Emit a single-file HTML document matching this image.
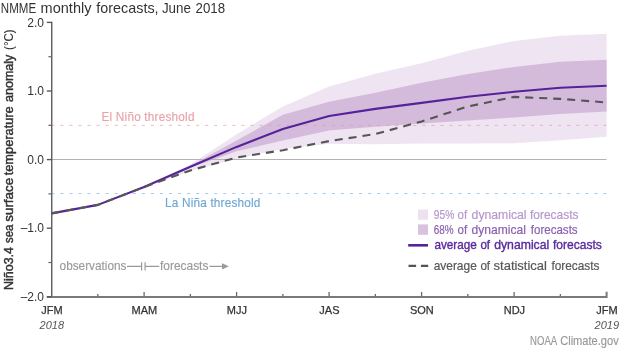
<!DOCTYPE html>
<html><head><meta charset="utf-8"><style>
html,body{margin:0;padding:0;background:#fff;width:620px;height:349px;overflow:hidden}
svg{display:block;will-change:transform}
text{font-family:"Liberation Sans",sans-serif}
</style></head><body>
<svg width="620" height="349" viewBox="0 0 620 349">
<polygon points="144.10,187.04 190.35,164.40 236.60,134.29 282.85,106.50 329.10,86.47 375.35,73.85 421.60,63.22 467.85,50.87 514.10,40.92 560.35,35.78 606.60,33.72 606.60,136.69 560.35,140.19 514.10,143.27 467.85,143.62 421.60,143.62 375.35,144.30 329.10,143.68 282.85,148.97 236.60,158.71 190.35,170.92 144.10,187.04" fill="#efe4f1"/>
<polygon points="144.10,187.04 190.35,165.77 236.60,140.39 282.85,114.80 329.10,101.63 375.35,92.72 421.60,82.77 467.85,73.99 514.10,66.99 560.35,61.71 606.60,59.72 606.60,111.58 560.35,113.98 514.10,117.48 467.85,120.43 421.60,123.58 375.35,126.81 329.10,130.44 282.85,140.53 236.60,151.37 190.35,167.83 144.10,187.04" fill="#d5bbdb"/>
<line x1="51.6" y1="159.5" x2="606.6" y2="159.5" stroke="#b3b3b3" stroke-width="1"/>
<line x1="51.3" y1="125.4" x2="606.6" y2="125.4" stroke="#e0949a" stroke-opacity="0.62" stroke-width="1" stroke-dasharray="3.1,5.95"/>
<line x1="51.3" y1="193.5" x2="606.6" y2="193.5" stroke="#a2cfef" stroke-width="1" stroke-dasharray="3.1,5.95"/>
<polyline points="51.60,213.38 97.85,204.88 144.10,187.04 144.10,187.04 190.35,166.80 236.60,146.91 282.85,129.00 329.10,115.97 375.35,108.84 421.60,102.87 467.85,96.83 514.10,91.82 560.35,87.78 606.60,85.79" fill="none" stroke="#55229a" stroke-width="2.1" stroke-linejoin="round"/>
<polyline points="51.60,213.38 97.85,204.88 144.10,187.04" fill="none" stroke="#585858" stroke-width="2.1" stroke-dasharray="8,6" stroke-dashoffset="-0.2"/>
<polyline points="144.10,187.04 190.35,170.44 236.60,157.54 282.85,150.20 329.10,141.08 375.35,134.08 421.60,121.39 467.85,106.50 514.10,96.90 560.35,98.89 606.60,102.46" fill="none" stroke="#555" stroke-width="2.1" stroke-dasharray="8,6" stroke-dashoffset="-0.85"/>
<line x1="51.75" y1="21.7" x2="51.75" y2="297" stroke="#555" stroke-width="1.35"/>
<path d="M46.8,296.9 H606.6 V291.7" fill="none" stroke="#7a7a7a" stroke-width="2"/>
<line x1="46.8" y1="22.40" x2="51.7" y2="22.40" stroke="#555" stroke-width="1.35"/>
<line x1="46.8" y1="91.00" x2="51.7" y2="91.00" stroke="#555" stroke-width="1.35"/>
<line x1="46.8" y1="159.60" x2="51.7" y2="159.60" stroke="#555" stroke-width="1.35"/>
<line x1="46.8" y1="228.20" x2="51.7" y2="228.20" stroke="#555" stroke-width="1.35"/>
<line x1="46.8" y1="296.80" x2="51.7" y2="296.80" stroke="#555" stroke-width="1.35"/>
<line x1="48.4" y1="56.70" x2="51.7" y2="56.70" stroke="#666" stroke-width="1.2"/>
<line x1="48.4" y1="125.30" x2="51.7" y2="125.30" stroke="#666" stroke-width="1.2"/>
<line x1="48.4" y1="193.90" x2="51.7" y2="193.90" stroke="#666" stroke-width="1.2"/>
<line x1="48.4" y1="262.50" x2="51.7" y2="262.50" stroke="#666" stroke-width="1.2"/>
<line x1="97.85" y1="296.5" x2="97.85" y2="293.9" stroke="#6a6a6a" stroke-width="1.3"/>
<line x1="144.10" y1="296.5" x2="144.10" y2="291.9" stroke="#6a6a6a" stroke-width="1.3"/>
<line x1="190.35" y1="296.5" x2="190.35" y2="293.9" stroke="#6a6a6a" stroke-width="1.3"/>
<line x1="236.60" y1="296.5" x2="236.60" y2="291.9" stroke="#6a6a6a" stroke-width="1.3"/>
<line x1="282.85" y1="296.5" x2="282.85" y2="293.9" stroke="#6a6a6a" stroke-width="1.3"/>
<line x1="329.10" y1="296.5" x2="329.10" y2="291.9" stroke="#6a6a6a" stroke-width="1.3"/>
<line x1="375.35" y1="296.5" x2="375.35" y2="293.9" stroke="#6a6a6a" stroke-width="1.3"/>
<line x1="421.60" y1="296.5" x2="421.60" y2="291.9" stroke="#6a6a6a" stroke-width="1.3"/>
<line x1="467.85" y1="296.5" x2="467.85" y2="293.9" stroke="#6a6a6a" stroke-width="1.3"/>
<line x1="514.10" y1="296.5" x2="514.10" y2="291.9" stroke="#6a6a6a" stroke-width="1.3"/>
<line x1="560.35" y1="296.5" x2="560.35" y2="293.9" stroke="#6a6a6a" stroke-width="1.3"/>
<text id="y2" x="44.0" y="26.60" font-size="12" fill="#333" text-anchor="end">2.0</text>
<text id="y1" x="44.0" y="95.20" font-size="12" fill="#333" text-anchor="end">1.0</text>
<text id="y0" x="44.0" y="163.80" font-size="12" fill="#333" text-anchor="end">0.0</text>
<text id="y-1" x="44.0" y="232.40" font-size="12" fill="#333" text-anchor="end">–1.0</text>
<text id="y-2" x="44.0" y="301.00" font-size="12" fill="#333" text-anchor="end">–2.0</text>
<text id="m0" x="51.90" y="313.6" font-size="11" fill="#333" text-anchor="middle" stroke="#333" stroke-width="0.25">JFM</text>
<text id="m2" x="144.40" y="313.6" font-size="11" fill="#333" text-anchor="middle" stroke="#333" stroke-width="0.25">MAM</text>
<text id="m4" x="236.90" y="313.6" font-size="11" fill="#333" text-anchor="middle" stroke="#333" stroke-width="0.25">MJJ</text>
<text id="m6" x="329.40" y="313.6" font-size="11" fill="#333" text-anchor="middle" stroke="#333" stroke-width="0.25">JAS</text>
<text id="m8" x="421.90" y="313.6" font-size="11" fill="#333" text-anchor="middle" stroke="#333" stroke-width="0.25">SON</text>
<text id="m10" x="514.40" y="313.6" font-size="11" fill="#333" text-anchor="middle" stroke="#333" stroke-width="0.25">NDJ</text>
<text id="m12" x="606.90" y="313.6" font-size="11" fill="#333" text-anchor="middle" stroke="#333" stroke-width="0.25">JFM</text>
<text id="yr2018" x="51.80" y="328.7" font-size="11" fill="#555" font-style="italic" text-anchor="middle">2018</text>
<text id="yr2019" x="606.8" y="328.7" font-size="11" fill="#555" font-style="italic" text-anchor="middle">2019</text>
<g transform="translate(530.10,345.2) scale(1,1.08)"><text id="noaa_0" x="0" y="0" font-size="11" fill="#999" stroke="#999" stroke-width="0.15" textLength="27.10" lengthAdjust="spacingAndGlyphs">NOAA</text></g>
<g transform="translate(560.20,345.2) scale(1,1.08)"><text id="noaa_1" x="0" y="0" font-size="11" fill="#999" stroke="#999" stroke-width="0.15" textLength="58.50" lengthAdjust="spacingAndGlyphs">Climate.gov</text></g>
<text id="tw0" x="0.86" y="12.7" font-size="14.4" fill="#333" textLength="35.26" lengthAdjust="spacingAndGlyphs">NMME</text>
<text id="tw1" x="40.64" y="12.7" font-size="14.4" fill="#333" textLength="50.82" lengthAdjust="spacingAndGlyphs">monthly</text>
<text id="tw2" x="96.32" y="12.7" font-size="14.4" fill="#333" textLength="62.26" lengthAdjust="spacingAndGlyphs">forecasts,</text>
<text id="tw3" x="161.88" y="12.7" font-size="14.4" fill="#333" textLength="29.02" lengthAdjust="spacingAndGlyphs">June</text>
<text id="tw4" x="195.54" y="12.7" font-size="14.4" fill="#333" textLength="29.48" lengthAdjust="spacingAndGlyphs">2018</text>
<g transform="translate(13.2,289.90) rotate(-90)"><text id="yw0" x="0" y="0" font-size="12.4" fill="#333" stroke="#333" stroke-width="0.45" textLength="42.90" lengthAdjust="spacingAndGlyphs">Niño3.4</text></g>
<g transform="translate(13.2,242.90) rotate(-90)"><text id="yw1" x="0" y="0" font-size="12.4" fill="#333" stroke="#333" stroke-width="0.45" textLength="18.30" lengthAdjust="spacingAndGlyphs">sea</text></g>
<g transform="translate(13.2,221.70) rotate(-90)"><text id="yw2" x="0" y="0" font-size="12.4" fill="#333" stroke="#333" stroke-width="0.45" textLength="43.80" lengthAdjust="spacingAndGlyphs">surface</text></g>
<g transform="translate(13.2,175.30) rotate(-90)"><text id="yw3" x="0" y="0" font-size="12.4" fill="#333" stroke="#333" stroke-width="0.45" textLength="69.00" lengthAdjust="spacingAndGlyphs">temperature</text></g>
<g transform="translate(13.2,102.00) rotate(-90)"><text id="yw4" x="0" y="0" font-size="12.4" fill="#333" stroke="#333" stroke-width="0.45" textLength="47.40" lengthAdjust="spacingAndGlyphs">anomaly</text></g>
<g transform="translate(13.2,49.90) rotate(-90)"><text id="yw5" x="0" y="0" font-size="12.4" fill="#333" stroke="#333" stroke-width="0.1" textLength="20.60" lengthAdjust="spacingAndGlyphs">(°C)</text></g>
<g transform="translate(101.5,121.4) scale(1,1.07)"><text x="0" y="0" font-size="11.8" fill="#e8a3aa" stroke="#e8a3aa" stroke-width="0.15" textLength="93.00" lengthAdjust="spacing">El Niño threshold</text></g>
<g transform="translate(165.0,207.2) scale(1,1.08)"><text x="0" y="0" font-size="11.8" fill="#6ea7d2" stroke="#6ea7d2" stroke-width="0.15" textLength="95.40" lengthAdjust="spacing">La Niña threshold</text></g>
<g transform="translate(59.60,270) scale(1,1.08)"><text id="obs_0" x="0" y="0" font-size="11.8" fill="#9a9a9a" stroke="#9a9a9a" stroke-width="0.15" textLength="66.80" lengthAdjust="spacingAndGlyphs">observations</text></g>
<path d="M127,266.3 H141.6 M145.1,266.3 H159.3 M141.6,262.3 V270.6 M145.1,262.3 V270.6 M209.5,266.3 H224" stroke="#9a9a9a" stroke-width="1.2" fill="none"/>
<path d="M228.8,266.3 L222,263.2 L222,269.4 Z" fill="#9a9a9a"/>
<g transform="translate(160.00,270) scale(1,1.08)"><text id="fc_0" x="0" y="0" font-size="11.8" fill="#9a9a9a" stroke="#9a9a9a" stroke-width="0.15" textLength="48.40" lengthAdjust="spacingAndGlyphs">forecasts</text></g>
<rect x="418" y="209.5" width="10" height="10.3" fill="#ede1f0"/>
<rect x="418" y="224.4" width="10" height="10.4" fill="#d8c2df"/>
<line x1="408.2" y1="245.3" x2="428" y2="245.3" stroke="#55229a" stroke-width="2.6"/>
<line x1="408.5" y1="265.9" x2="428.2" y2="265.9" stroke="#555" stroke-width="2.4" stroke-dasharray="7.6,4.8"/>
<g transform="translate(433.80,219.4) scale(1,1.08)"><text id="l95_0" x="0" y="0" font-size="11.8" fill="#b898ce" stroke="#b898ce" stroke-width="0.2" textLength="20.52" lengthAdjust="spacingAndGlyphs">95%</text></g>
<g transform="translate(457.56,219.4) scale(1,1.08)"><text id="l95_1" x="0" y="0" font-size="11.8" fill="#b898ce" stroke="#b898ce" stroke-width="0.2" textLength="9.56" lengthAdjust="spacingAndGlyphs">of</text></g>
<g transform="translate(471.62,219.4) scale(1,1.08)"><text id="l95_2" x="0" y="0" font-size="11.8" fill="#b898ce" stroke="#b898ce" stroke-width="0.2" textLength="54.96" lengthAdjust="spacingAndGlyphs">dynamical</text></g>
<g transform="translate(530.06,219.4) scale(1,1.08)"><text id="l95_3" x="0" y="0" font-size="11.8" fill="#b898ce" stroke="#b898ce" stroke-width="0.2" textLength="48.38" lengthAdjust="spacingAndGlyphs">forecasts</text></g>
<g transform="translate(433.80,234.4) scale(1,1.08)"><text id="l68_0" x="0" y="0" font-size="11.8" fill="#8c62af" stroke="#8c62af" stroke-width="0.2" textLength="19.82" lengthAdjust="spacingAndGlyphs">68%</text></g>
<g transform="translate(457.56,234.4) scale(1,1.08)"><text id="l68_1" x="0" y="0" font-size="11.8" fill="#8c62af" stroke="#8c62af" stroke-width="0.2" textLength="9.56" lengthAdjust="spacingAndGlyphs">of</text></g>
<g transform="translate(471.62,234.4) scale(1,1.08)"><text id="l68_2" x="0" y="0" font-size="11.8" fill="#8c62af" stroke="#8c62af" stroke-width="0.2" textLength="54.26" lengthAdjust="spacingAndGlyphs">dynamical</text></g>
<g transform="translate(530.76,234.4) scale(1,1.08)"><text id="l68_3" x="0" y="0" font-size="11.8" fill="#8c62af" stroke="#8c62af" stroke-width="0.2" textLength="46.86" lengthAdjust="spacingAndGlyphs">forecasts</text></g>
<g transform="translate(434.38,248.7) scale(1,1.08)"><text id="ldy_0" x="0" y="0" font-size="11.8" fill="#5a2a9e" stroke="#5a2a9e" stroke-width="0.35" textLength="42.38" lengthAdjust="spacingAndGlyphs">average</text></g>
<g transform="translate(480.38,248.7) scale(1,1.08)"><text id="ldy_1" x="0" y="0" font-size="11.8" fill="#5a2a9e" stroke="#5a2a9e" stroke-width="0.35" textLength="9.68" lengthAdjust="spacingAndGlyphs">of</text></g>
<g transform="translate(494.18,248.7) scale(1,1.08)"><text id="ldy_2" x="0" y="0" font-size="11.8" fill="#5a2a9e" stroke="#5a2a9e" stroke-width="0.35" textLength="55.08" lengthAdjust="spacingAndGlyphs">dynamical</text></g>
<g transform="translate(553.00,248.7) scale(1,1.08)"><text id="ldy_3" x="0" y="0" font-size="11.8" fill="#5a2a9e" stroke="#5a2a9e" stroke-width="0.35" textLength="48.82" lengthAdjust="spacingAndGlyphs">forecasts</text></g>
<g transform="translate(433.68,270.2) scale(1,1.08)"><text id="lst_0" x="0" y="0" font-size="11.8" fill="#585858" stroke="#585858" stroke-width="0.2" textLength="43.08" lengthAdjust="spacingAndGlyphs">average</text></g>
<g transform="translate(480.38,270.2) scale(1,1.08)"><text id="lst_1" x="0" y="0" font-size="11.8" fill="#585858" stroke="#585858" stroke-width="0.2" textLength="9.68" lengthAdjust="spacingAndGlyphs">of</text></g>
<g transform="translate(493.62,270.2) scale(1,1.08)"><text id="lst_2" x="0" y="0" font-size="11.8" fill="#585858" stroke="#585858" stroke-width="0.2" textLength="53.26" lengthAdjust="spacingAndGlyphs">statistical</text></g>
<g transform="translate(551.44,270.2) scale(1,1.08)"><text id="lst_3" x="0" y="0" font-size="11.8" fill="#585858" stroke="#585858" stroke-width="0.2" textLength="48.06" lengthAdjust="spacingAndGlyphs">forecasts</text></g>
</svg>
</body></html>
